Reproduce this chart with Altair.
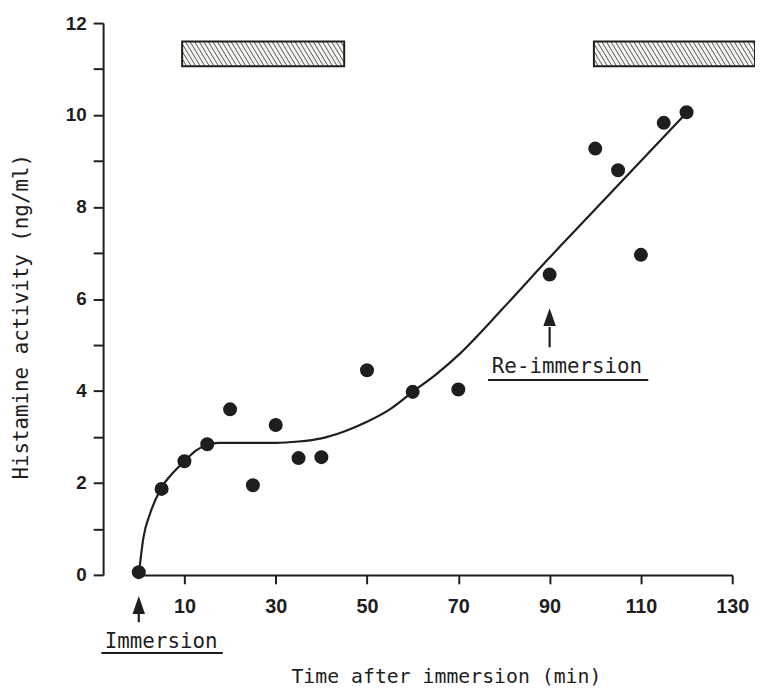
import altair as alt
import pandas as pd

# ---- data ----
time_min = [0, 5, 10, 15, 20, 25, 30, 35, 40, 50, 60, 70, 90, 100, 105, 110, 115, 120]
histamine = [0.06, 1.87, 2.47, 2.84, 3.6, 1.95, 3.26, 2.54, 2.56, 4.45, 3.98, 4.03,
             6.53, 9.27, 8.8, 6.96, 9.83, 10.06]

curve_x = [0, 1, 2.5, 5, 7.5, 10, 12.5, 15, 17.5, 20, 25, 30, 35, 40, 45, 50, 55, 60,
           65, 70, 80, 90, 100, 110, 120]
curve_y = [0, 0.8, 1.34, 1.9, 2.22, 2.47, 2.7, 2.83, 2.87, 2.87, 2.87, 2.87, 2.9, 2.97,
           3.12, 3.33, 3.6, 3.98, 4.35, 4.78, 5.82, 6.9, 7.95, 9.0, 10.05]

bar_start = [9.5, 99.7]
bar_end = [45, 135]
bar_bottom = [11.06, 11.06]
bar_top = [11.6, 11.6]

x_ticks = [10, 30, 50, 70, 90, 110, 130]
y_ticks = list(range(0, 13))

ann_text = ["Immersion", "Re-immersion"]
ann_text_x = [4.9, 93.8]
ann_text_y = [-1.45, 4.52]
ann_line_x = [-8.2, 76.5]
ann_line_x2 = [18.4, 111.6]
ann_line_y = [-1.70, 4.24]
arrow_x = [0, 90]
arrow_tip = [-0.47, 5.82]
arrow_base = [-0.84, 5.39]
arrow_tail = [-1.03, 4.95]

INK = "#1e1e1e"
TITLE_FONT = "DejaVu Sans Mono"
LABEL_FONT = "Liberation Sans"

pts = pd.DataFrame({"t": time_min, "h": histamine})
crv = pd.DataFrame({"t": curve_x, "h": curve_y})
bars = pd.DataFrame({"t": bar_start, "t2": bar_end, "h": bar_bottom, "h2": bar_top})

# hatch segments derived from the box extents (decoration)
hatch = []
step, slant = 1.0, 3.3
for s, e, b, tp in zip(bar_start, bar_end, bar_bottom, bar_top):
    x0 = s - slant
    while x0 < e:
        xa, ya, xb, yb = x0, tp, x0 + slant, b
        if xa < s:
            ya = tp - (s - x0) / slant * (tp - b)
            xa = s
        if xb > e:
            yb = tp - (e - x0) / slant * (tp - b)
            xb = e
        if xb > xa:
            hatch.append({"t": xa, "h": ya, "t2": xb, "h2": yb})
        x0 += step
hatch = pd.DataFrame(hatch)

ann = pd.DataFrame({"text": ann_text, "tx": ann_text_x, "ty": ann_text_y,
                    "lx": ann_line_x, "lx2": ann_line_x2, "ly": ann_line_y,
                    "ax": arrow_x, "tip": arrow_tip, "base": arrow_base, "tail": arrow_tail})
ann["head"] = (ann["tip"] + ann["base"]) / 2

xs = alt.Scale(domain=[0, 130], nice=False, zero=False)
ys = alt.Scale(domain=[0, 12], nice=False, zero=False)

x_axis = alt.Axis(values=x_ticks, title="Time after immersion (min)", grid=False,
                  tickSize=9, tickWidth=2, domainWidth=2, domainColor=INK, tickColor=INK,
                  labelFont=LABEL_FONT, labelFontSize=20, labelFontWeight="bold",
                  labelColor=INK, labelPadding=13, labelFlush=False,
                  titleFont=TITLE_FONT, titleFontSize=20, titleFontWeight="normal",
                  titleColor=INK, titleX=310, titleY=109, titleBaseline="alphabetic",
                  titleAlign="center")
y_axis = alt.Axis(values=y_ticks, labelExpr="datum.value % 2 == 0 ? datum.label : ''",
                  title="Histamine activity (ng/ml)", grid=False, offset=36,
                  tickSize=10, tickWidth=2, domainWidth=2, domainColor=INK, tickColor=INK,
                  labelFont=LABEL_FONT, labelFontSize=19, labelFontWeight="bold",
                  labelColor=INK, labelPadding=7, labelFlush=False,
                  titleFont=TITLE_FONT, titleFontSize=21, titleFontWeight="normal",
                  titleColor=INK, titleAngle=-90, titleX=-82, titleY=296,
                  titleBaseline="middle", titleAlign="center")

X = lambda f: alt.X(f, scale=xs, axis=x_axis)
Y = lambda f: alt.Y(f, scale=ys, axis=y_axis)

line = alt.Chart(crv).mark_line(color=INK, strokeWidth=2.2, interpolate="monotone").encode(
    x=X("t:Q"), y=Y("h:Q"),
)
points = alt.Chart(pts).mark_point(filled=True, size=200, color=INK, opacity=1).encode(
    x=X("t:Q"), y=Y("h:Q"),
)
boxes_fill = alt.Chart(bars).mark_rect(fill="#f4f5ee").encode(
    x=X("t:Q"), x2="t2:Q", y=Y("h:Q"), y2="h2:Q",
)
hatch_lines = alt.Chart(hatch).mark_rule(color="#555555", strokeWidth=1).encode(
    x=X("t:Q"), x2="t2:Q", y=Y("h:Q"), y2="h2:Q",
)
boxes_edge = alt.Chart(bars).mark_rect(fill="transparent", stroke=INK, strokeWidth=2).encode(
    x=X("t:Q"), x2="t2:Q", y=Y("h:Q"), y2="h2:Q",
)
ann_txt = alt.Chart(ann).mark_text(font=TITLE_FONT, fontSize=21, color=INK,
                                   align="center", baseline="middle").encode(
    x=X("tx:Q"), y=Y("ty:Q"), text="text:N",
)
ann_under = alt.Chart(ann).mark_rule(color=INK, strokeWidth=2).encode(
    x=X("lx:Q"), x2="lx2:Q", y=Y("ly:Q"),
)
ann_stem = alt.Chart(ann).mark_rule(color=INK, strokeWidth=2.2).encode(
    x=X("ax:Q"), y=Y("base:Q"), y2="tail:Q",
)
ann_head = alt.Chart(ann).mark_point(shape="M0,-1L0.7,1L-0.7,1Z", filled=True, size=324,
                                     color=INK, opacity=1).encode(
    x=X("ax:Q"), y=Y("head:Q"),
)

chart = alt.layer(line, boxes_fill, hatch_lines, boxes_edge, points,
                  ann_stem, ann_head, ann_under, ann_txt).properties(
    width=599, height=557,
    autosize=alt.AutoSizeParams(type="none"),
    padding={"left": 132, "top": 12, "right": 23, "bottom": 115},
    background="white",
).configure_view(stroke=None)

chart.save("out.html", embed_options={"renderer": "svg", "actions": False})
